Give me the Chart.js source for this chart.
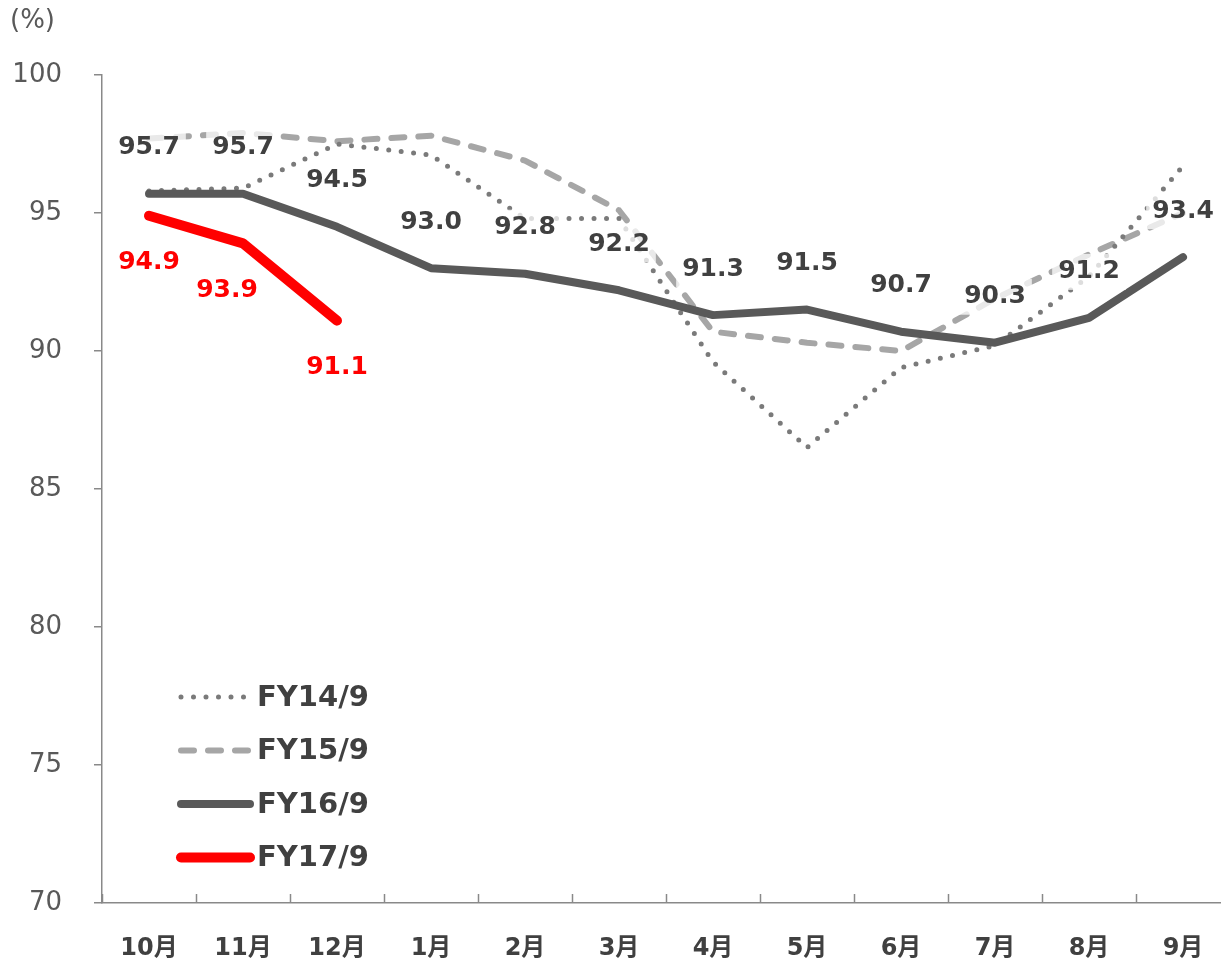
<!DOCTYPE html>
<html lang="ja">
<head>
<meta charset="utf-8">
<script src="https://cdn.jsdelivr.net/npm/chart.js"></script>
<style>
  html, body { margin: 0; padding: 0; background: #fff; overflow: hidden; }
  #wrap { position: relative; width: 1221px; height: 961px; overflow: hidden; }
  #unit { position: absolute; left: 10px; top: 4px; font: 26px "DejaVu Sans", sans-serif; color: #595959; }
</style>
</head>
<body>
<div id="wrap">
  <div id="unit">(%)</div>
  <canvas id="chart" width="1240" height="961"></canvas>
</div>
<script>
// categories + series
const months = ['10月', '11月', '12月', '1月', '2月', '3月', '4月', '5月', '6月', '7月', '8月', '9月'];
const fy14 = [95.8, 95.9, 97.5, 97.1, 94.8, 94.8, 89.6, 86.5, 89.4, 90.2, 92.7, 96.7];
const fy15 = [97.7, 97.9, 97.6, 97.8, 96.9, 95.1, 90.7, 90.3, 90.0, 91.9, 93.5, 95.0];
const fy16 = [95.7, 95.7, 94.5, 93.0, 92.8, 92.2, 91.3, 91.5, 90.7, 90.3, 91.2, 93.4];
const fy17 = [94.9, 93.9, 91.1];
const yTicks = [70, 75, 80, 85, 90, 95, 100];

const AXIS = '#898989';
const TXT = '#404040';
const FONT = '"DejaVu Sans", "Noto Sans CJK JP", sans-serif';

// value labels (only FY16 above, FY17 below)
const labelPlugin = {
  id: 'vlabels',
  afterDatasetsDraw(chart) {
    const ctx = chart.ctx;
    ctx.save();
    ctx.font = 'bold 25px ' + FONT;
    ctx.textAlign = 'center';
    ctx.textBaseline = 'middle';
    chart.data.datasets.forEach((ds, di) => {
      if (!ds.showVals) return;
      const meta = chart.getDatasetMeta(di);
      meta.data.forEach((pt, i) => {
        const txt = ds.data[i].toFixed(1);
        let x = pt.x, y = pt.y + ds.showVals;
        if (ds.label === 'FY17/9' && i === 1) x -= 16;
        const w = ctx.measureText(txt).width + 12;
        ctx.fillStyle = 'rgba(255,255,255,0.75)';
        ctx.fillRect(x - w / 2, y - 18, w, 36);
        ctx.fillStyle = ds.valColor;
        ctx.fillText(txt, x, y);
      });
    });
    ctx.restore();
  }
};

// x tick marks between categories, pointing up + legend inside plot
const extrasPlugin = {
  id: 'extras',
  afterDraw(chart) {
    const ctx = chart.ctx;
    const xs = chart.scales.x;
    const bottom = chart.chartArea.bottom;
    ctx.save();
    ctx.strokeStyle = AXIS;
    ctx.lineWidth = 1.5;
    for (let i = 0; i <= months.length; i++) {
      const x = Math.round(xs.getPixelForValue(i - 0.5)) + 0.5;
      ctx.beginPath();
      ctx.moveTo(x, bottom);
      ctx.lineTo(x, bottom - 9);
      ctx.stroke();
    }
    // legend
    ctx.font = 'bold 29px ' + FONT;
    ctx.textBaseline = 'middle';
    ctx.textAlign = 'left';
    chart.data.datasets.forEach((ds, i) => {
      const y = 697 + i * 53.5;
      ctx.beginPath();
      ctx.setLineDash(ds.borderDash || []);
      ctx.lineCap = 'round';
      ctx.strokeStyle = ds.borderColor;
      ctx.lineWidth = ds.borderWidth;
      ctx.moveTo(181, y);
      ctx.lineTo(250, y);
      ctx.stroke();
      ctx.setLineDash([]);
      ctx.fillStyle = TXT;
      ctx.fillText(ds.label, 257, y + 1);
    });
    ctx.restore();
  }
};

const common = { fill: false, tension: 0, pointRadius: 0, pointHoverRadius: 0, borderCapStyle: 'round', borderJoinStyle: 'round' };

new Chart(document.getElementById('chart'), {
  type: 'line',
  data: {
    labels: months,
    datasets: [
      { ...common, label: 'FY14/9', data: fy14, borderColor: '#7a7a7a', borderWidth: 5, borderDash: [0, 12.5], order: 3 },
      { ...common, label: 'FY15/9', data: fy15, borderColor: '#a6a6a6', borderWidth: 6, borderDash: [13, 14], order: 4 },
      { ...common, label: 'FY16/9', data: fy16, borderColor: '#595959', borderWidth: 8, order: 2, showVals: -46, valColor: TXT },
      { ...common, label: 'FY17/9', data: fy17, borderColor: '#ff0000', borderWidth: 10, order: 1, showVals: 47, valColor: '#ff0000' }
    ]
  },
  options: {
    responsive: false,
    animation: false,
    devicePixelRatio: 1,
    layout: { padding: { top: 75, right: 10, left: 0, bottom: 0 } },
    plugins: { legend: { display: false }, tooltip: { enabled: false } },
    scales: {
      x: {
        offset: true,
        grid: { display: false, drawTicks: false },
        border: { display: true, color: AXIS, width: 1.5 },
        ticks: { color: TXT, padding: 31, font: { family: FONT, size: 24, weight: 'bold' }, maxRotation: 0 },
        afterFit(s) { s.height = 58; }
      },
      y: {
        min: 70, max: 100,
        afterBuildTicks(s) { s.ticks = yTicks.map(v => ({ value: v })); },
        grid: { drawOnChartArea: false, drawTicks: true, tickLength: 8, color: AXIS, lineWidth: 1.5 },
        border: { display: true, color: AXIS, width: 1.5 },
        ticks: { color: '#595959', padding: 32, font: { family: FONT, size: 26 } },
        afterFit(s) { s.width = 102; }
      }
    }
  },
  plugins: [labelPlugin, extrasPlugin]
});
</script>
</body>
</html>
